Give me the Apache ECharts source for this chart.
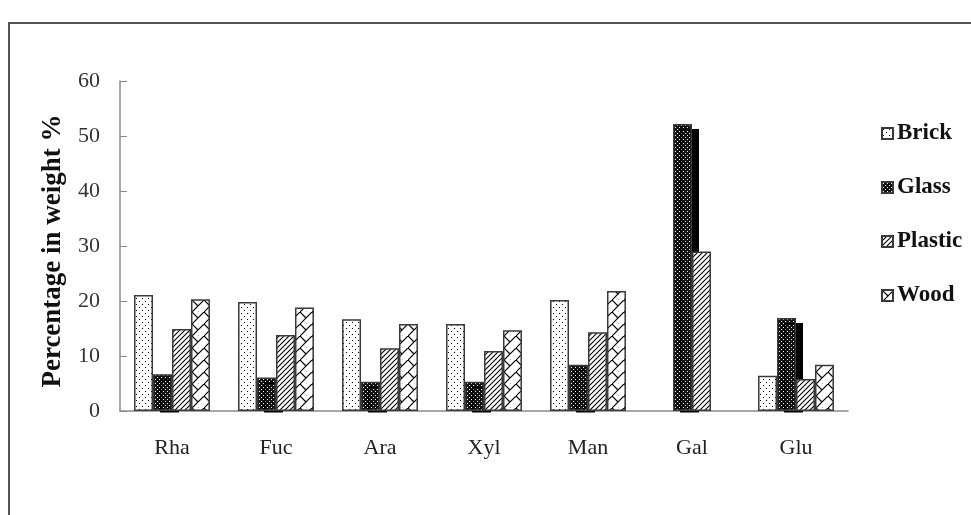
<!DOCTYPE html>
<html>
<head>
<meta charset="utf-8">
<script src="https://cdn.jsdelivr.net/npm/echarts@6/dist/echarts.min.js"></script>
<style>
html,body{margin:0;padding:0;background:#fff;}
#chart{width:971px;height:515px;}
</style>
</head>
<body>
<div id="chart"></div>
<script>
// ---- data ----
var categories = ['Rha', 'Fuc', 'Ara', 'Xyl', 'Man', 'Gal', 'Glu'];
var brick   = [21.1, 19.8, 16.7, 15.8, 20.2, null, 6.4];
var glass   = [6.7, 6.1, 5.3, 5.3, 8.4, 52.2, 16.9];
var plastic = [14.9, 13.8, 11.4, 10.9, 14.3, 29.0, 5.8];
var wood    = [20.3, 18.8, 15.8, 14.7, 21.8, null, 8.4];
var seriesNames = ['Brick', 'Glass', 'Plastic', 'Wood'];
var yTicks = [0, 10, 20, 30, 40, 50, 60];

// ---- patterns ----
function makeTile(w, h, draw) {
  var c = document.createElement('canvas');
  c.width = w; c.height = h;
  var ctx = c.getContext('2d');
  ctx.fillStyle = '#fff';
  ctx.fillRect(0, 0, w, h);
  draw(ctx);
  return { image: c, repeat: 'repeat' };
}
var patBrick = makeTile(6, 6, function (ctx) {
  ctx.fillStyle = '#000';
  ctx.fillRect(1, 1, 1, 1);
  ctx.fillRect(4, 4, 1, 1);
});
var patGlass = makeTile(4, 4, function (ctx) {
  ctx.fillStyle = '#111';
  ctx.fillRect(0, 0, 4, 4);
  ctx.fillStyle = '#eee';
  ctx.fillRect(1, 1, 1, 1);
  ctx.fillRect(3, 3, 1, 1);
});
var patPlastic = makeTile(5, 5, function (ctx) {
  ctx.strokeStyle = '#000';
  ctx.lineWidth = 1.1;
  ctx.beginPath();
  ctx.moveTo(-1, 6); ctx.lineTo(6, -1);
  ctx.moveTo(-1, 1); ctx.lineTo(1, -1);
  ctx.moveTo(4, 6); ctx.lineTo(6, 4);
  ctx.stroke();
});
var patWood = makeTile(12, 12, function (ctx) {
  ctx.strokeStyle = '#000';
  ctx.lineWidth = 1.2;
  ctx.beginPath();
  ctx.moveTo(-1, 13); ctx.lineTo(13, -1);
  ctx.moveTo(0, 0); ctx.lineTo(6, 6);
  ctx.moveTo(6, 12); ctx.lineTo(12, 18);
  ctx.moveTo(-6, 6); ctx.lineTo(0, 12);
  ctx.stroke();
});
var patterns = [patBrick, patGlass, patPlastic, patWood];
var values = [brick, glass, plastic, wood];

var serif = '"Liberation Serif", "Times New Roman", serif';

var series = seriesNames.map(function (name, i) {
  var st = {
    color: patterns[i],
    borderColor: '#3a3a3a',
    borderWidth: 1.5
  };
  if (name === 'Glass') {
    st.shadowColor = '#000';
    st.shadowBlur = 0;
    st.shadowOffsetX = 7;
    st.shadowOffsetY = 5;
  }
  return {
    name: name,
    type: 'bar',
    data: values[i],
    barGap: '0%',
    barCategoryGap: '27%',
    itemStyle: st,
    emphasis: { disabled: true },
    animation: false
  };
});

var chart = echarts.init(document.getElementById('chart'), null, { renderer: 'canvas' });
chart.setOption({
  animation: false,
  backgroundColor: '#fff',
  grid: { left: 120, top: 81, width: 728, height: 330, containLabel: false },
  legend: {
    orient: 'vertical',
    left: 876,
    top: 117,
    itemWidth: 11,
    itemHeight: 11,
    itemGap: 31,
    icon: 'rect',
    textStyle: { fontFamily: serif, fontSize: 23, fontWeight: 'bold', color: '#111', padding: [0, 0, 0, -1] },
    data: seriesNames
  },
  xAxis: {
    type: 'category',
    data: categories,
    axisLine: { lineStyle: { color: '#8a8a8a', width: 1.5 } },
    axisTick: { inside: true, length: 6, lineStyle: { color: '#8a8a8a' } },
    axisLabel: { fontFamily: serif, fontSize: 22, color: '#222', margin: 26 }
  },
  yAxis: {
    type: 'value',
    min: yTicks[0],
    max: yTicks[yTicks.length - 1],
    interval: 10,
    name: 'Percentage in weight %',
    nameLocation: 'middle',
    nameRotate: 90,
    nameGap: 53,
    nameTextStyle: { fontFamily: serif, fontSize: 27, fontWeight: 'bold', color: '#111', padding: [0, 10, 0, 0] },
    splitLine: { show: false },
    axisLine: { show: true, lineStyle: { color: '#8a8a8a', width: 1.5 } },
    axisTick: { show: true, inside: true, length: 7, lineStyle: { color: '#8a8a8a' } },
    axisLabel: { fontFamily: serif, fontSize: 22, color: '#333', margin: 20 }
  },
  graphic: [
    { type: 'rect', z: 100, silent: true, shape: { x: 9, y: 23, width: 1100, height: 600 },
      style: { fill: null, stroke: '#555', lineWidth: 2 } },
    { type: 'rect', z: 100, silent: true, shape: { x: 121, y: 412.5, width: 740, height: 8 },
      style: { fill: '#fff' } }
  ],
  series: series
});
</script>
</body>
</html>
